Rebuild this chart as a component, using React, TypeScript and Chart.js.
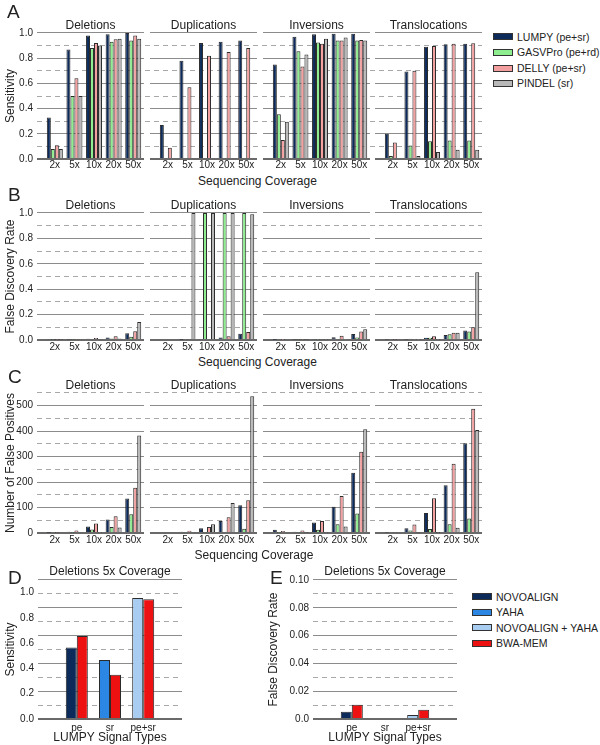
import React, { useEffect, useRef } from 'react';
import { Chart, registerables } from 'chart.js';

Chart.register(...registerables);

const FONT = "'Liberation Sans', Arial, Helvetica, sans-serif";
Chart.defaults.font.family = FONT;
Chart.defaults.color = '#222';

// ---------- categories ----------
const coverageLabels = ['2x', '5x', '10x', '20x', '50x'];
const coveragePositions = [1, 2, 3, 4, 5];
const svTypes = ['Deletions', 'Duplications', 'Inversions', 'Translocations'];
const callerNames = ['LUMPY (pe+sr)', 'GASVPro (pe+rd)', 'DELLY (pe+sr)', 'PINDEL (sr)'];
const callerColors = ['#0c2b5b', '#8eed8e', '#f4a0a0', '#b8b8b8'];

// ---------- A: sensitivity [LUMPY, GASVPro, DELLY, PINDEL] x coverage ----------
const sensitivityDeletions = [
  [0.33, 0.87, 0.98, 0.99, 1.0],
  [0.08, 0.5, 0.88, 0.93, 0.94],
  [0.11, 0.64, 0.92, 0.95, 0.98],
  [0.08, 0.5, 0.9, 0.955, 0.955],
];
const sensitivityDuplications = [
  [0.27, 0.78, 0.92, 0.93, 0.94],
  [0, 0, 0, 0, 0],
  [0.09, 0.57, 0.82, 0.85, 0.88],
  [0, 0, 0, 0, 0],
];
const sensitivityInversions = [
  [0.75, 0.97, 0.99, 0.995, 0.995],
  [0.355, 0.855, 0.925, 0.94, 0.94],
  [0.15, 0.735, 0.915, 0.94, 0.945],
  [0.295, 0.83, 0.955, 0.965, 0.94],
];
const sensitivityTranslocations = [
  [0.2, 0.695, 0.89, 0.91, 0.915],
  [0.024, 0.108, 0.14, 0.147, 0.147],
  [0.13, 0.7, 0.897, 0.915, 0.918],
  [0, 0.024, 0.055, 0.074, 0.074],
];

// ---------- B: false discovery rate ----------
const fdrDeletions = [
  [0.005, 0.003, 0.01, 0.02, 0.053],
  [0.002, 0.002, 0.008, 0.012, 0.026],
  [0.002, 0.003, 0.015, 0.03, 0.068],
  [0.002, 0.003, 0.006, 0.012, 0.142],
];
const fdrDuplications = [
  [0, 0.002, 0.005, 0.02, 0.05],
  [0, 0, 1.0, 1.0, 1.0],
  [0, 0.003, 0.008, 0.03, 0.063],
  [0, 1.0, 1.0, 1.0, 0.99],
];
const fdrInversions = [
  [0.001, 0.003, 0.005, 0.021, 0.047],
  [0, 0.002, 0.003, 0.008, 0.02],
  [0.001, 0.003, 0.006, 0.034, 0.066],
  [0, 0.002, 0.003, 0.005, 0.084],
];
const fdrTranslocations = [
  [0.003, 0.003, 0.018, 0.039, 0.074],
  [0, 0.01, 0.018, 0.045, 0.066],
  [0.002, 0.005, 0.029, 0.058, 0.1],
  [0, 0.001, 0.003, 0.058, 0.534],
];

// ---------- C: number of false positives ----------
const fpDeletions = [
  [1, 5, 26, 53, 136],
  [0, 1, 14, 24, 74],
  [1, 10, 37, 66, 178],
  [0, 3, 2, 22, 383],
];
const fpDuplications = [
  [0, 5, 19, 47, 109],
  [0, 0, 2, 5, 17],
  [0, 9, 24, 62, 129],
  [0, 4, 34, 118, 537],
];
const fpInversions = [
  [13, 5, 41, 103, 237],
  [1, 2, 13, 34, 77],
  [8, 10, 47, 145, 319],
  [0, 1, 2, 26, 408],
];
const fpTranslocations = [
  [2, 19, 79, 188, 353],
  [0, 10, 16, 34, 57],
  [2, 33, 137, 272, 488],
  [0, 1, 1, 21, 405],
];

// ---------- D / E ----------
const signalTypes = ['pe', 'sr', 'pe+sr'];
const signalPositions = [1, 2, 3];
const alignerNames = ['NOVOALIGN', 'YAHA', 'NOVOALIGN + YAHA', 'BWA-MEM'];
const alignerColors = ['#0c2b5b', '#2b87e3', '#a8cdf1', '#ee1111'];
const novoalignSensitivity = [0.565, null, null];
const yahaSensitivity = [null, 0.467, null];
const novoYahaSensitivity = [null, null, 0.958];
const bwaMemSensitivity = [0.657, 0.351, 0.947];
const novoalignFdr = [0.0053, null, null];
const yahaFdr = [null, 0, null];
const novoYahaFdr = [null, null, 0.0029];
const bwaMemFdr = [0.0103, 0, 0.0067];
const sensitivityTickLabels = [0, 0.2, 0.4, 0.6, 0.8, 1.0];

const BORDER = '#2b2b2b';
const TEXT = '#222';
const DASH_COLOR = '#a8a8a8';
const SOLID_COLOR = '#8c8c8c';
const DASH = [5, 4];

function gridFor(isDashed: (v: number) => boolean, dashOffset = 0) {
  return {
    grid: {
      drawTicks: false,
      color: (c: any) => {
        if (!c.tick) return 'rgba(0,0,0,0)';
        const v = c.tick.value;
        if (Math.abs(v) < 1e-9) return '#6a6a6a';
        return isDashed(v) ? DASH_COLOR : SOLID_COLOR;
      },
      lineWidth: (c: any) => (c.tick && Math.abs(c.tick.value) < 1e-9 ? 2 : 1),
    },
    border: {
      display: false,
      dash: (c: any) => (c.tick && isDashed(c.tick.value) ? DASH : []),
      dashOffset,
    },
  };
}

const tenths = (v: number) => Math.round(v * 10);
const hundredths = (v: number) => Math.round(v * 100);

const rowSpecs = [
  {
    series: [sensitivityDeletions, sensitivityDuplications, sensitivityInversions, sensitivityTranslocations],
    titleTop: 18, plotTop: 33, plotBottom: 159, max: 1, step: 0.1, tickPad: 0,
    dashed: (v: number) => tenths(v) % 2 === 1,
    label: (v: number) => (tenths(v) % 2 === 0 ? v.toFixed(1) : ''),
    yTitle: 'Sensitivity',
  },
  {
    series: [fdrDeletions, fdrDuplications, fdrInversions, fdrTranslocations],
    titleTop: 198, plotTop: 213, plotBottom: 340, max: 1, step: 0.1, tickPad: 1,
    dashed: (v: number) => tenths(v) % 2 === 1,
    label: (v: number) => (tenths(v) % 2 === 0 ? v.toFixed(1) : ''),
    yTitle: 'False Discovery Rate',
  },
  {
    series: [fpDeletions, fpDuplications, fpInversions, fpTranslocations],
    titleTop: 378, plotTop: 393, plotBottom: 533, max: 550, step: 50, tickPad: 1,
    dashed: (v: number) => Math.round(v / 50) % 2 === 1,
    label: (v: number) => (Math.round(v) % 100 === 0 ? String(Math.round(v)) : ''),
    yTitle: 'Number of False Positives',
  },
];

const plotLefts = [37, 150, 263, 375];
const plotWidth = 107;
const gaps = [6, 6, 5, 0];

// continues the dashed grid lines through the gap to the next sub-plot
function gapDashPlugin(isDashed: (v: number) => boolean, gap: number, offset: number) {
  return {
    id: 'gapDash',
    afterDraw(chart: any) {
      if (!gap) return;
      const y = chart.scales.y;
      const ctx = chart.ctx;
      const right = chart.chartArea.right;
      ctx.save();
      ctx.strokeStyle = DASH_COLOR;
      ctx.lineWidth = 1;
      ctx.setLineDash(DASH);
      ctx.lineDashOffset = offset;
      for (const t of y.ticks) {
        if (!isDashed(t.value)) continue;
        const py = Math.round(y.getPixelForValue(t.value) - 0.5) + 0.5;
        ctx.beginPath();
        ctx.moveTo(right, py);
        ctx.lineTo(right + gap, py);
        ctx.stroke();
      }
      ctx.restore();
    },
  };
}

function subplotConfig(row: any, k: number) {
  const first = k === 0;
  const offset = plotLefts[k] - plotLefts[0];
  return {
    type: 'bar',
    data: {
      labels: coveragePositions,
      datasets: row.series[k].map((vals: number[], i: number) => ({
        label: callerNames[i],
        data: vals,
        backgroundColor: callerColors[i],
        borderColor: BORDER,
        borderWidth: 1,
        categoryPercentage: 0.816,
        barPercentage: 1,
      })),
    },
    plugins: [gapDashPlugin(row.dashed, gaps[k], offset + plotWidth)],
    options: {
      responsive: false,
      animation: false,
      events: [],
      layout: { padding: { left: 0, top: 0, bottom: 0, right: gaps[k] } },
      plugins: {
        legend: { display: false },
        tooltip: { enabled: false },
        title: {
          display: true,
          text: svTypes[k],
          fullSize: false,
          color: TEXT,
          font: { size: 12, weight: 'normal' },
          padding: { top: 0, bottom: row.plotTop - row.titleTop - 14.4 },
        },
      },
      scales: {
        x: {
          type: 'linear',
          min: 0.09,
          max: 5.55,
          offset: false,
          grid: { display: false, drawTicks: false },
          border: { display: false },
          afterBuildTicks: (s: any) => {
            s.ticks = coveragePositions.map((v) => ({ value: v }));
          },
          ticks: {
            padding: row.tickPad,
            autoSkip: false,
            maxRotation: 0,
            font: { size: 10 },
            color: TEXT,
            callback: (v: any) => coverageLabels[Math.round(v) - 1] ?? '',
          },
          afterFit: (s: any) => {
            s.height = 14;
          },
        },
        y: {
          min: 0,
          max: row.max,
          ...gridFor(row.dashed, offset),
          ticks: {
            stepSize: row.step,
            autoSkip: false,
            display: first,
            padding: 4,
            font: { size: 10 },
            color: TEXT,
            callback: (v: any) => row.label(Number(v)),
          },
          title: {
            display: first,
            text: row.yTitle,
            color: TEXT,
            font: { size: 12 },
            padding: { top: 3, bottom: 0 },
          },
          afterFit: (s: any) => {
            s.width = first ? 37 : 0;
          },
        },
      },
    },
  };
}

function signalXAxis() {
  return {
    type: 'linear',
    min: -0.169,
    max: 4.169,
    offset: false,
    grid: { display: false, drawTicks: false },
    border: { display: false },
    afterBuildTicks: (s: any) => {
      s.ticks = signalPositions.map((v) => ({ value: v }));
    },
    ticks: {
      padding: 3,
      autoSkip: false,
      maxRotation: 0,
      font: { size: 10 },
      color: TEXT,
      callback: (v: any) => signalTypes[Math.round(v) - 1] ?? '',
    },
    title: {
      display: true,
      text: 'LUMPY Signal Types',
      color: TEXT,
      font: { size: 12 },
      padding: { top: 0, bottom: 0.5 },
    },
    afterFit: (s: any) => {
      s.height = 26;
    },
  };
}

function pickFirst(arrays: (number | null)[][], i: number) {
  for (const a of arrays) if (a[i] !== null && a[i] !== undefined) return a[i];
  return null;
}
function pickColor(arrays: (number | null)[][], i: number) {
  for (let j = 0; j < arrays.length; j++) if (arrays[j][i] !== null && arrays[j][i] !== undefined) return alignerColors[j];
  return alignerColors[0];
}

function alignerDatasets(first: (number | null)[][], bwa: number[]) {
  return [
    {
      label: 'single aligner',
      data: signalPositions.map((_, i) => pickFirst(first, i)),
      backgroundColor: signalPositions.map((_, i) => pickColor(first, i)),
      borderColor: BORDER,
      borderWidth: 1,
      categoryPercentage: 0.663,
      barPercentage: 1,
    },
    {
      label: alignerNames[3],
      data: bwa,
      backgroundColor: alignerColors[3],
      borderColor: BORDER,
      borderWidth: 1,
      categoryPercentage: 0.663,
      barPercentage: 1,
    },
  ];
}

const panelTitle = {
  display: true,
  text: 'Deletions 5x Coverage',
  fullSize: false,
  color: TEXT,
  font: { size: 12, weight: 'normal' },
  padding: { top: 0, bottom: 580 - 564 - 14.4 },
};

function panelDConfig() {
  const i11 = (v: number) => Math.round(v / 0.11);
  return {
    type: 'bar',
    data: {
      labels: signalPositions,
      datasets: alignerDatasets([novoalignSensitivity, yahaSensitivity, novoYahaSensitivity], bwaMemSensitivity),
    },
    options: {
      responsive: false,
      animation: false,
      events: [],
      layout: { padding: 0 },
      plugins: { legend: { display: false }, tooltip: { enabled: false }, title: panelTitle },
      scales: {
        x: signalXAxis(),
        y: {
          min: 0,
          max: 1.1,
          ...gridFor((v: number) => i11(v) % 2 === 1),
          afterBuildTicks: (s: any) => {
            s.ticks = [0, 1, 2, 3, 4, 5, 6, 7, 8, 9, 10].map((i) => ({ value: i * 0.11 }));
          },
          ticks: { display: false, autoSkip: false, callback: () => '' },
          afterFit: (s: any) => {
            s.width = 0;
          },
        },
        yl: {
          position: 'left',
          min: 0,
          max: 1.1,
          grid: { display: false, drawTicks: false },
          border: { display: false },
          afterBuildTicks: (s: any) => {
            s.ticks = sensitivityTickLabels.map((v) => ({ value: v }));
          },
          ticks: {
            autoSkip: false,
            padding: 4,
            font: { size: 10 },
            color: TEXT,
            callback: (v: any) => Number(v).toFixed(1),
          },
          title: { display: true, text: 'Sensitivity', color: TEXT, font: { size: 12 }, padding: { top: 3, bottom: 0 } },
          afterFit: (s: any) => {
            s.width = 38;
          },
        },
      },
    },
  };
}

function panelEConfig() {
  return {
    type: 'bar',
    data: {
      labels: signalPositions,
      datasets: alignerDatasets([novoalignFdr, yahaFdr, novoYahaFdr], bwaMemFdr),
    },
    options: {
      responsive: false,
      animation: false,
      events: [],
      layout: { padding: 0 },
      plugins: { legend: { display: false }, tooltip: { enabled: false }, title: panelTitle },
      scales: {
        x: signalXAxis(),
        y: {
          min: 0,
          max: 0.1,
          ...gridFor((v: number) => hundredths(v) % 2 === 1),
          ticks: {
            stepSize: 0.01,
            autoSkip: false,
            padding: 4,
            font: { size: 10 },
            color: TEXT,
            callback: (v: any) => {
              const h = hundredths(Number(v));
              if (h === 0) return '0.0';
              return h % 2 === 0 ? Number(v).toFixed(2) : '';
            },
          },
          title: { display: true, text: 'False Discovery Rate', color: TEXT, font: { size: 12 }, padding: { top: 3, bottom: 0 } },
          afterFit: (s: any) => {
            s.width = 50;
          },
        },
      },
    },
  };
}

function ChartCanvas(props: { left: number; top: number; width: number; height: number; make: () => any }) {
  const ref = useRef<HTMLCanvasElement | null>(null);
  useEffect(() => {
    const chart = new Chart(ref.current as HTMLCanvasElement, props.make());
    return () => chart.destroy();
  }, []);
  return (
    <canvas
      ref={ref}
      width={props.width}
      height={props.height}
      style={{ position: 'absolute', left: props.left, top: props.top, width: props.width, height: props.height }}
    />
  );
}

function LegendRow(props: { left: number; cy: number; color: string; text: string }) {
  return (
    <div
      style={{
        position: 'absolute',
        left: props.left,
        top: props.cy - 7,
        height: 14,
        display: 'flex',
        alignItems: 'center',
        whiteSpace: 'nowrap',
        fontSize: 10.5,
        color: TEXT,
      }}
    >
      <span style={{ display: 'inline-block', width: 18, height: 5, background: props.color, border: '1px solid #333', marginRight: 4 }} />
      <span>{props.text}</span>
    </div>
  );
}

function Letter(props: { left: number; top: number; text: string }) {
  return (
    <div style={{ position: 'absolute', left: props.left, top: props.top, fontSize: 19, lineHeight: '19px', color: TEXT }}>
      {props.text}
    </div>
  );
}

function AxisText(props: { cx: number; top: number; text: string }) {
  return (
    <div
      style={{
        position: 'absolute',
        left: props.cx - 100,
        width: 200,
        top: props.top,
        textAlign: 'center',
        fontSize: 12,
        lineHeight: '14px',
        color: TEXT,
      }}
    >
      {props.text}
    </div>
  );
}

export default function App() {
  const subplots: any[] = [];
  rowSpecs.forEach((row, r) => {
    for (let k = 0; k < 4; k++) {
      const first = k === 0;
      subplots.push(
        <ChartCanvas
          key={`r${r}k${k}`}
          left={first ? 0 : plotLefts[k]}
          top={row.titleTop}
          width={(first ? plotLefts[0] + plotWidth : plotWidth) + gaps[k]}
          height={row.plotBottom - row.titleTop + 14}
          make={() => subplotConfig(row, k)}
        />
      );
    }
  });
  return (
    <div
      style={{
        position: 'absolute',
        left: 0,
        top: 0,
        width: 600,
        height: 745,
        overflow: 'hidden',
        background: '#fff',
        fontFamily: FONT,
      }}
    >
      {subplots}
      <ChartCanvas left={0} top={564} width={182} height={181} make={panelDConfig} />
      <ChartCanvas left={263} top={564} width={194} height={181} make={panelEConfig} />

      <Letter left={7} top={2} text="A" />
      <Letter left={8} top={185} text="B" />
      <Letter left={8} top={367} text="C" />
      <Letter left={8} top={568} text="D" />
      <Letter left={270} top={568} text="E" />

      <AxisText cx={257.5} top={174} text="Sequencing Coverage" />
      <AxisText cx={257.5} top={355} text="Sequencing Coverage" />
      <AxisText cx={254} top={548} text="Sequencing Coverage" />

      {callerNames.map((n, i) => (
        <LegendRow key={n} left={493} cy={[36.7, 52.3, 68.3, 83.3][i]} color={callerColors[i]} text={n} />
      ))}
      {alignerNames.map((n, i) => (
        <LegendRow key={n} left={472} cy={[596.7, 612, 627.7, 643.3][i]} color={alignerColors[i]} text={n} />
      ))}
    </div>
  );
}
